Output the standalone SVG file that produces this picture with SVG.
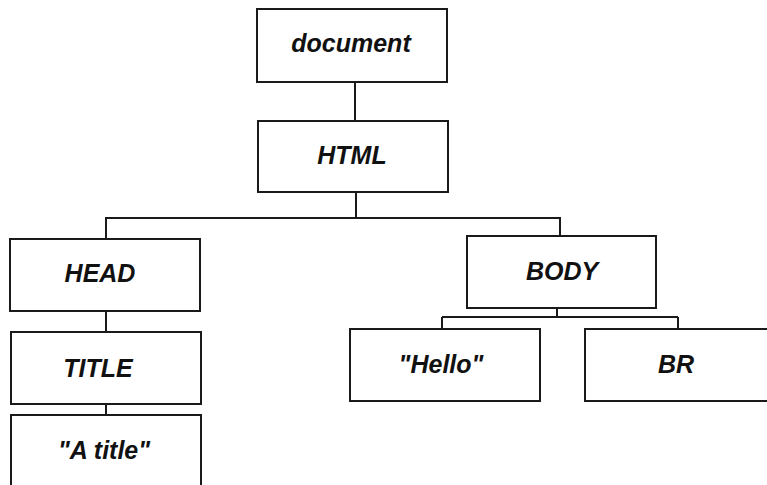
<svg xmlns="http://www.w3.org/2000/svg" width="767" height="485" viewBox="0 0 767 485">
<style>
.box{fill:#fff;stroke:#1a1a1a;stroke-width:2}
.lbl{font-family:"Liberation Sans",Arial,sans-serif;font-weight:bold;font-style:italic;font-size:25px;fill:#111;text-anchor:middle}
.con{stroke:#1a1a1a;stroke-width:2;fill:none}
</style>
<rect width="767" height="485" fill="#fff"/>
<g id="connectors">
<path class="con" d="M355 82V121"/>
<path class="con" d="M356 192V218M106 218H560M106 217V239M560 217V236"/>
<path class="con" d="M106 311V332M106 404V415"/>
<path class="con" d="M557 308V318M442 317H678M442 317V329M678 317V329"/>
</g>
<g id="document"><rect class="box" x="257" y="9" width="190" height="73"/><text class="lbl" x="351" y="52">document</text></g>
<g id="html"><rect class="box" x="258" y="121" width="190" height="71"/><text class="lbl" x="352" y="164">HTML</text></g>
<g id="head"><rect class="box" x="10" y="239" width="190" height="72"/><text class="lbl" x="100" y="282">HEAD</text></g>
<g id="body"><rect class="box" x="467" y="236" width="189" height="72"/><text class="lbl" x="562" y="280">BODY</text></g>
<g id="title"><rect class="box" x="11" y="332" width="190" height="72"/><text class="lbl" x="98" y="377">TITLE</text></g>
<g id="atitle"><rect class="box" x="11" y="415" width="190" height="80"/><text class="lbl" x="104" y="459">"A title"</text></g>
<g id="hello"><rect class="box" x="350" y="329" width="190" height="72"/><text class="lbl" x="441" y="373">"Hello"</text></g>
<g id="br"><rect class="box" x="585" y="329" width="190" height="72"/><text class="lbl" x="676" y="373">BR</text></g>
</svg>
